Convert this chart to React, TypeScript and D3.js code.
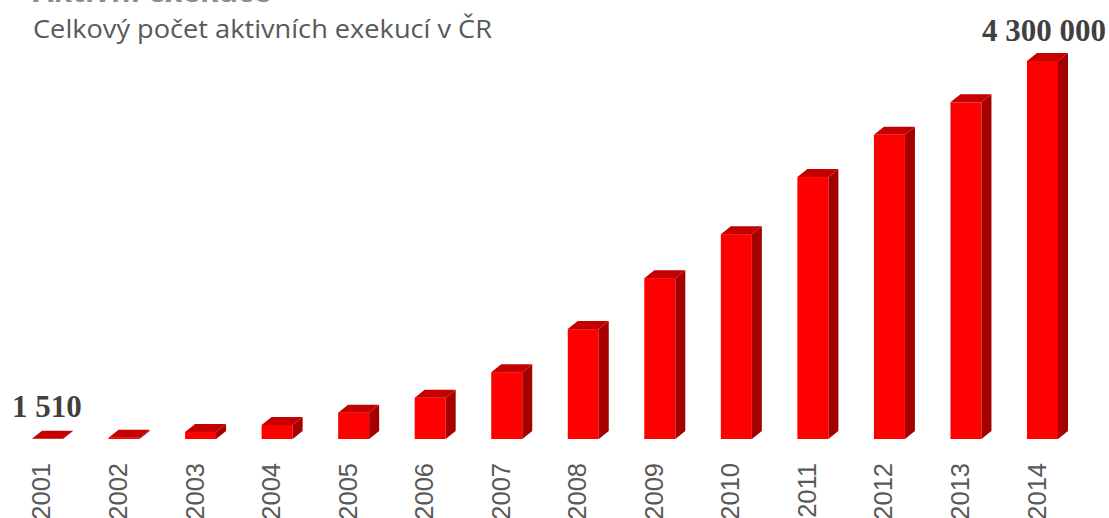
import React from 'react';
import * as d3 from 'd3';

// data
const years = ['2001', '2002', '2003', '2004', '2005', '2006', '2007', '2008', '2009', '2010', '2011', '2012', '2013', '2014'];
const executions = [1510, 15000, 80000, 160000, 300000, 470000, 760000, 1250000, 1830000, 2330000, 2980000, 3460000, 3830000, 4300000];
const firstLabel = '1 510';
const lastLabel = '4 300 000';
const title = 'Aktivní exekuce';
const subtitle = 'Celkový počet aktivních exekucí v ČR';

const W = 1109, H = 518;
const base = 439;
const dx = 10, dy = 8;

export default function App() {
    const x = d3.scaleBand<string>()
        .domain(years)
        .range([32, 1058])
        .paddingInner(0.595)
        .paddingOuter(0);

    const y = d3.scaleLinear()
        .domain([0, 4300000])
        .range([base, 61]);

    const bw = x.bandwidth();

    const bars = years.map((yr, i) => {
        const x0 = x(yr) as number;
        const x1 = x0 + bw;
        const top = y(executions[i]);
        const topFace = `M${x0},${top} L${x1},${top} L${x1 + dx},${top - dy} L${x0 + dx},${top - dy} Z`;
        const sideFace = `M${x1},${top} L${x1 + dx},${top - dy} L${x1 + dx},${base - dy} L${x1},${base} Z`;
        return (
            <g key={yr}>
                <rect x={x0} y={top} width={bw} height={Math.max(0, base - top)} fill="#ff0000" />
                <path d={sideFace} fill="#a50000" />
                <path d={topFace} fill="#c40000" />
            </g>
        );
    });

    // year labels, rotated, reading upward
    const labels = years.map((yr) => {
        const cx = (x(yr) as number) + bw / 2 - 6;
        return (
            <text key={yr} transform={`translate(${cx + 9},463) rotate(-90)`} textAnchor="end"
                fontFamily="Liberation Sans, Arial, sans-serif" fontSize={25.5} fill="#595959">{yr}</text>
        );
    });

    const lastX = (x(years[years.length - 1]) as number);

    return (
        <svg width={W} height={H} style={{ position: 'fixed', left: 0, top: 0, background: '#fff' }}>
            <text x={33} y={2} fontFamily="Open Sans, sans-serif" fontWeight="bold" fontSize={30} fill="#8c8c8c"
                textLength={238} lengthAdjust="spacingAndGlyphs">{title}</text>
            <text x={33} y={38} fontFamily="Open Sans, sans-serif" fontSize={25} fill="#595959"
                textLength={459} lengthAdjust="spacingAndGlyphs">{subtitle}</text>
            {bars}
            {labels}
            <text x={12} y={y(executions[0]) - 22} fontFamily="Liberation Serif, Times New Roman, serif" fontWeight="bold" fontSize={31} fill="#404040">{firstLabel}</text>
            <text x={lastX + bw + dx + 38} y={y(executions[executions.length - 1]) - 20} textAnchor="end"
                fontFamily="Liberation Serif, Times New Roman, serif" fontWeight="bold" fontSize={31} fill="#404040">{lastLabel}</text>
        </svg>
    );
}
